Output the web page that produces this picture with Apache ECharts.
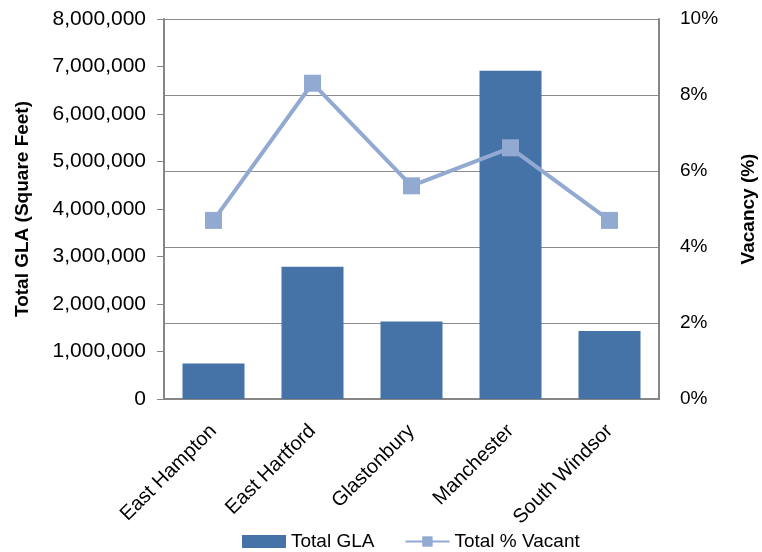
<!DOCTYPE html>
<html>
<head>
<meta charset="utf-8">
<script src="https://cdn.jsdelivr.net/npm/echarts@6/dist/echarts.min.js"></script>
<style>
    html, body { margin: 0; padding: 0; background: #fff; }
    #chart { width: 762px; height: 552px; }
</style>
</head>
<body>
<div id="chart"></div>
<script>
// data
const towns = ['East Hampton', 'East Hartford', 'Glastonbury', 'Manchester', 'South Windsor'];
const totalGLA = [750000, 2785000, 1630000, 6910000, 1430000];
const totalVacant = [4.7, 8.31, 5.61, 6.61, 4.7]; // percent

const font = 'Liberation Sans, Arial, sans-serif';
const axisGray = '#868686';

let myChart = echarts.init(document.getElementById('chart'));

let option = {
    animation: false,
    textStyle: { fontFamily: font, color: '#000' },
    grid: {
        left: 164,
        right: 103,
        top: 19,
        bottom: 153,
        outerBoundsMode: 'none'
    },
    legend: {
        left: 237,
        top: 527,
        itemWidth: 44,
        itemHeight: 13,
        itemGap: 30,
        textStyle: { fontFamily: font, fontSize: 19, color: '#000' },
        data: [{ name: 'Total GLA', icon: 'rect' }, { name: 'Total % Vacant' }]
    },
    xAxis: {
        type: 'category',
        data: towns,
        axisTick: { show: false },
        axisLine: { show: true, lineStyle: { color: axisGray, width: 2 } },
        axisLabel: {
            rotate: 45,
            margin: 29,
            fontSize: 20,
            fontFamily: font,
            color: '#000',
            interval: 0
        }
    },
    yAxis: [
        {
            type: 'value',
            min: 0,
            max: 8000000,
            interval: 1000000,
            name: 'Total GLA (Square Feet)',
            nameLocation: 'middle',
            nameGap: 132,
            nameTextStyle: { fontFamily: font, fontSize: 19, fontWeight: 'bold', color: '#000' },
            axisLine: { show: true, lineStyle: { color: axisGray, width: 2 } },
            axisTick: { show: true, length: 7, lineStyle: { color: axisGray, width: 1 } },
            splitLine: { show: false },
            axisLabel: {
                margin: 18,
                fontSize: 21,
                fontFamily: font,
                color: '#000',
                formatter: v => v.toLocaleString('en-US')
            }
        },
        {
            type: 'value',
            min: 0,
            max: 10,
            interval: 2,
            name: 'Vacancy (%)',
            nameLocation: 'middle',
            nameGap: 80,
            nameTextStyle: { fontFamily: font, fontSize: 19, fontWeight: 'bold', color: '#000' },
            axisLine: { show: true, lineStyle: { color: axisGray, width: 2 } },
            axisTick: { show: false },
            splitLine: { show: true, lineStyle: { color: '#8c8c8c', width: 1 } },
            axisLabel: {
                margin: 21,
                fontSize: 19,
                fontFamily: font,
                color: '#000',
                formatter: '{value}%'
            }
        }
    ],
    series: [
        {
            name: 'Total GLA',
            type: 'bar',
            data: totalGLA,
            barWidth: 62,
            itemStyle: { color: '#4573a7' }
        },
        {
            name: 'Total % Vacant',
            type: 'line',
            yAxisIndex: 1,
            data: totalVacant,
            symbol: 'rect',
            symbolSize: 17,
            lineStyle: { color: '#92a9d1', width: 4 },
            itemStyle: { color: '#92a9d1' }
        }
    ]
};

myChart.setOption(option, true);
</script>
</body>
</html>
